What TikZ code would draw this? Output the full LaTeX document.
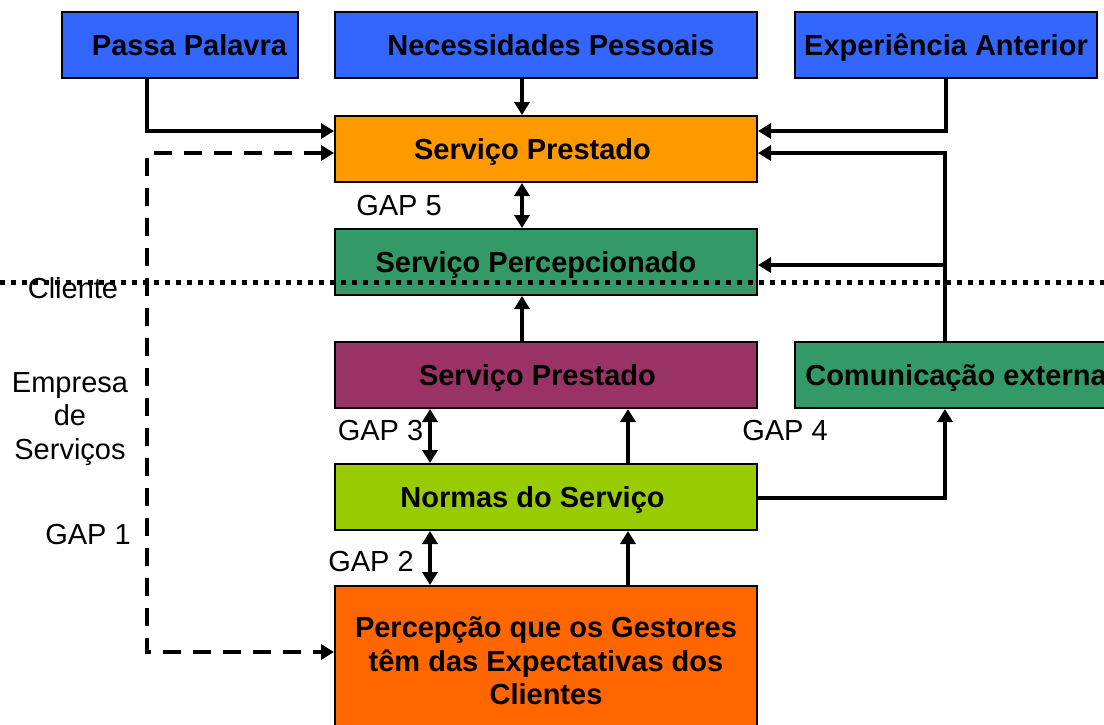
\documentclass[tikz,border=0pt]{standalone}
\usepackage{fontspec}
\setmainfont{Liberation Sans}
\usetikzlibrary{arrows.meta}
\definecolor{cblue}{HTML}{3366FF}
\definecolor{corange}{HTML}{FF9900}
\definecolor{cgreen}{HTML}{339966}
\definecolor{cpurple}{HTML}{993366}
\definecolor{clime}{HTML}{99CC00}
\definecolor{cred}{HTML}{FF6600}
\begin{document}
\begin{tikzpicture}[x=1pt,y=-1pt,
  box/.style={draw=black,line width=2pt,inner sep=0pt,
    font=\fontsize{29}{33.5}\selectfont\bfseries,text height=20.8pt,text depth=0pt},
  tall/.style={draw=black,line width=2pt,inner sep=0pt,align=center,
    font=\fontsize{29}{33.5}\selectfont\bfseries},
  lbl/.style={inner sep=0pt,font=\fontsize{29}{33.5}\selectfont},
  conn/.style={line width=4pt,-{Triangle[length=13pt,width=15pt]}},
  dbl/.style={line width=4pt,{Triangle[length=13pt,width=15pt]}-{Triangle[length=13pt,width=15pt]}},
  dconn/.style={line width=4pt,dash pattern=on 18pt off 12pt,
    {Triangle[length=13pt,width=15pt]}-{Triangle[length=13pt,width=15pt]}},
  dotline/.style={line width=5pt,dash pattern=on 5pt off 6pt}]
\useasboundingbox (0,0) rectangle (1104,724);
\clip (0,0) rectangle (1104,724);
\fill[white] (0,0) rectangle (1104,724);

% boxes
\node[box,fill=cblue,minimum width=236pt,minimum height=66pt] (pp) at (180,45) {\hspace*{19pt}Passa Palavra};
\node[box,fill=cblue,minimum width=422pt,minimum height=66pt] (np) at (546,45) {\hspace*{10pt}Necessidades Pessoais};
\node[box,fill=cblue,minimum width=302pt,minimum height=66pt] (ea) at (946,45) {Experiência Anterior};
\node[box,fill=corange,minimum width=422pt,minimum height=66pt] (op) at (546,149) {Serviço Prestado\hspace*{27pt}};
\node[box,fill=cgreen,minimum width=422pt,minimum height=66pt] (sp) at (546,262) {Serviço Percepcionado\hspace*{20pt}};
\node[box,fill=cpurple,minimum width=422pt,minimum height=66pt] (pr) at (546,375) {Serviço Prestado\hspace*{17pt}};
\node[box,fill=cgreen,minimum width=325pt,minimum height=66pt] (ce) at (957.5,375) {\hspace*{-3pt}Comunicação externa};
\node[box,fill=clime,minimum width=422pt,minimum height=66pt] (ns) at (546,497) {Normas do Serviço\hspace*{27pt}};
\node[tall,fill=cred,minimum width=422pt,minimum height=150pt] (pq) at (546,661) {Percepção que os Gestores\\têm das Expectativas dos\\Clientes};

% connectors
\draw[conn] ([xshift=-33pt]pp.south) |- ([yshift=18pt]op.west);
\draw[conn] ([xshift=-24pt]np.south) -- ([xshift=-24pt]op.north);
\draw[conn] (ea.south) |- ([yshift=18pt]op.east);
\draw[conn] ([xshift=-12.5pt]ce.north) |- ([yshift=-4pt]op.east);
\coordinate (br) at (945,265);
\draw[conn] (br) -- (br -| sp.east);
\coordinate (dl1) at (147,153);
\coordinate (dl2) at (147,652);
\draw[dconn] ([yshift=-4pt]op.west) -- (dl1) -- (dl2) -- ([yshift=9pt]pq.west);
\draw[dbl] ([xshift=-24pt]op.south) -- ([xshift=-24pt]sp.north);
\draw[conn] ([xshift=-24pt]pr.north) -- ([xshift=-24pt]sp.south);
\draw[dbl] ([xshift=-116pt]pr.south) -- ([xshift=-116pt]ns.north);
\draw[conn] ([xshift=82pt]ns.north) -- ([xshift=82pt]pr.south);
\draw[dbl] ([xshift=-116pt]ns.south) -- ([xshift=-116pt]pq.north);
\draw[conn] ([xshift=82pt]pq.north) -- ([xshift=82pt]ns.south);
\draw[conn] ([yshift=-1pt]ns.east) -| ([xshift=-12.5pt]ce.south);

% labels
\node[lbl,anchor=base] (g5) at (399,215) {GAP 5};
\node[lbl,anchor=base] (g3) at (380.5,440) {GAP 3};
\node[lbl,anchor=base] (g4) at (785,440) {GAP 4};
\node[lbl,anchor=base] (g2) at (371,571) {GAP 2};
\node[lbl,anchor=base] (g1) at (88,544) {GAP 1};
\node[lbl,anchor=base] (cl) at (73,298) {Cliente};
\node[lbl,align=center] (es) at (70,419) {Empresa\\de\\Serviços};

% dotted separator
\coordinate (s1) at (0,282);
\coordinate (s2) at (1104,282);
\draw[dotline] (s1) -- (s2);
\end{tikzpicture}
\end{document}
